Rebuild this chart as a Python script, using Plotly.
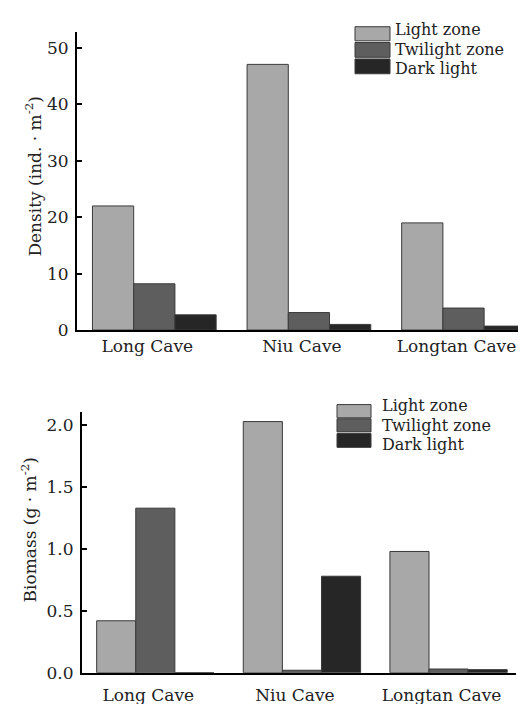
import plotly.graph_objects as go

caves = ["Long Cave", "Niu Cave", "Longtan Cave"]
zones = ["Light zone", "Twilight zone", "Dark light"]
colors = ["#a8a8a8", "#5e5e5e", "#262626"]

density = {
    "Light zone": [22.0, 47.1, 19.0],
    "Twilight zone": [8.2, 3.1, 3.9],
    "Dark light": [2.7, 1.0, 0.7],
}
biomass = {
    "Light zone": [0.42, 2.03, 0.98],
    "Twilight zone": [1.33, 0.02, 0.03],
    "Dark light": [0.0, 0.78, 0.025],
}
density_ticks = [0, 10, 20, 30, 40, 50]
biomass_ticks = [0.0, 0.5, 1.0, 1.5, 2.0]
biomass_ticktext = ["0.0", "0.5", "1.0", "1.5", "2.0"]

W, H = 526, 704
FONT = "DejaVu Serif"

def px(x):
    return x / W

def py(y):
    return 1 - y / H

fig = go.Figure()
for i, z in enumerate(zones):
    fig.add_trace(go.Bar(x=caves, y=density[z], name=z, marker=dict(color=colors[i], line=dict(color="#3a3a3a", width=1)),
                         xaxis="x", yaxis="y", showlegend=False))
    fig.add_trace(go.Bar(x=caves, y=biomass[z], name=z, marker=dict(color=colors[i], line=dict(color="#3a3a3a", width=1)),
                         xaxis="x2", yaxis="y2", showlegend=False))

axis_common = dict(showgrid=False, zeroline=False, showline=True, linecolor="black", linewidth=2,
                   tickfont=dict(family=FONT, size=17, color="#222"))

fig.update_layout(
    width=W, height=H,
    margin=dict(l=0, r=0, t=0, b=0),
    paper_bgcolor="white", plot_bgcolor="white",
    barmode="group", bargap=0.2, bargroupgap=0,
    showlegend=False,
    xaxis=dict(domain=[px(69), px(522)], range=[-0.5, 2.43], anchor="y", ticks="",
               ticklabelstandoff=0, ticklabelshift=-7, **axis_common),
    yaxis=dict(domain=[py(326.7), py(24)], range=[0, 52.9], anchor="x", ticks="inside", ticklen=5, tickwidth=1.5,
               tickcolor="black", tickvals=density_ticks, ticklabelstandoff=3, **axis_common),
    xaxis2=dict(domain=[px(74), px(508)], range=[-0.5, 2.46], anchor="y2", ticks="",
                ticklabelstandoff=6, ticklabelshift=-7, **axis_common),
    yaxis2=dict(domain=[py(674.3), py(410)], range=[0, 2.106], anchor="x2", ticks="inside", ticklen=5, tickwidth=1.5,
                tickcolor="black", tickvals=biomass_ticks, ticktext=biomass_ticktext, ticklabelstandoff=3, **axis_common),
)

# Axis titles
fig.add_annotation(text="Density (ind. · m<sup>-2</sup>)", x=px(25), y=py(171), xref="paper", yref="paper",
                   xanchor="center", yanchor="middle",
                   textangle=-90, showarrow=False, font=dict(family=FONT, size=17, color="#222"))
fig.add_annotation(text="Biomass (g · m<sup>-2</sup>)", x=px(21), y=py(530), xref="paper", yref="paper",
                   xanchor="center", yanchor="middle",
                   textangle=-90, showarrow=False, font=dict(family=FONT, size=17, color="#222"))

# Manual legends
top_patches = [(19, 33.3), (35, 50), (51.7, 66.7)]
top_text_y = [22, 42.5, 61]
bot_patches = [(402.3, 415.7), (416.7, 430), (431.7, 445.7)]
bot_text_y = [403, 424, 443]
for (x0, x1, tx, patches, texty) in [(347, 382, 386, top_patches, top_text_y), (329, 363, 373, bot_patches, bot_text_y)]:
    for i, z in enumerate(zones):
        y0, y1 = patches[i]
        fig.add_shape(type="rect", xref="paper", yref="paper", x0=px(x0), x1=px(x1), y0=py(y1), y1=py(y0),
                      fillcolor=colors[i], line=dict(color="#3a3a3a", width=1))
        fig.add_annotation(text=z, x=px(tx), y=py(texty[i]), xref="paper", yref="paper", xanchor="left",
                           yanchor="middle", showarrow=False, borderpad=0,
                           font=dict(family=FONT, size=16, color="#222"))

fig.write_html("out.html")
